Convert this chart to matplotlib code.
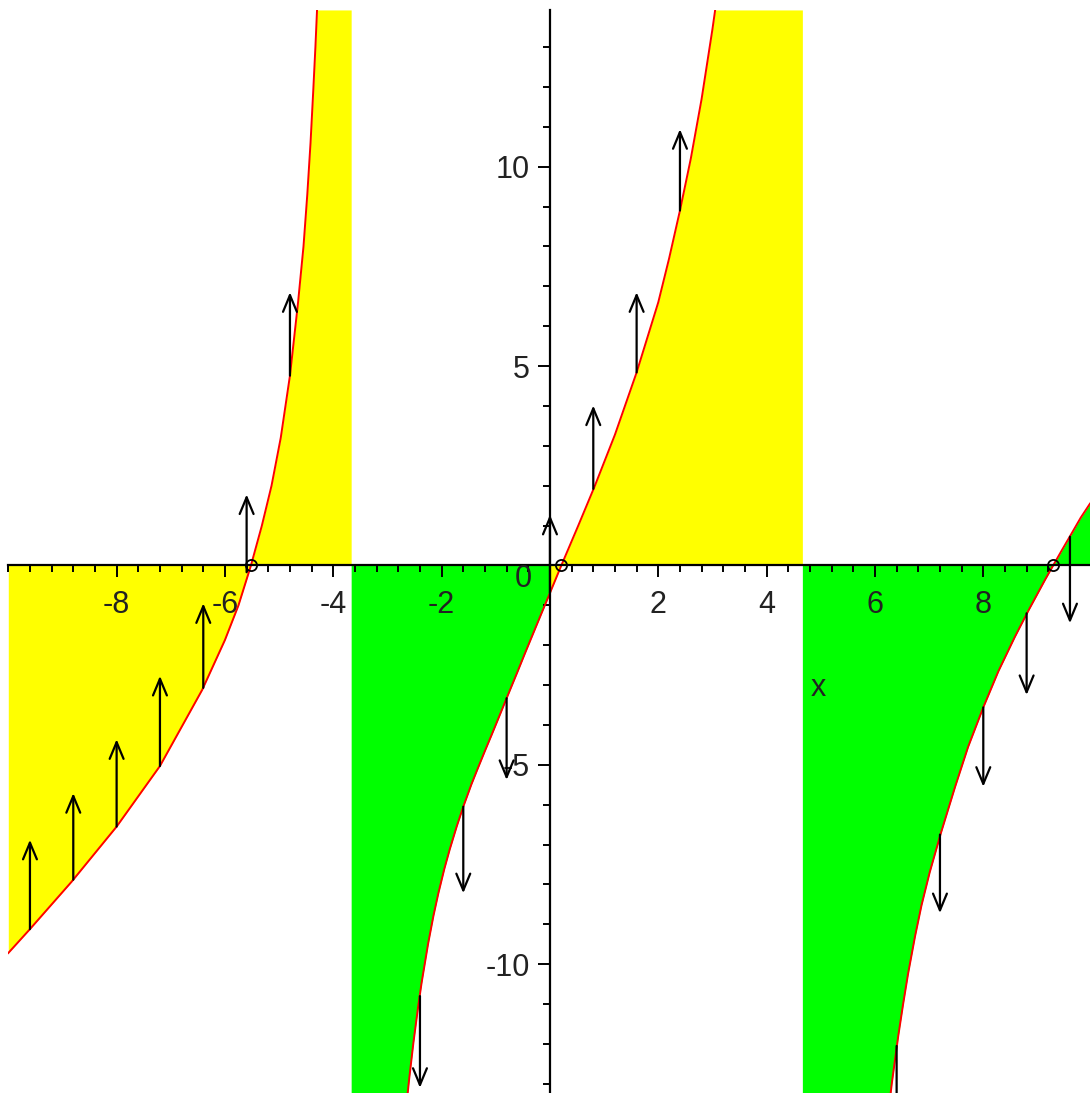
import matplotlib
matplotlib.use("Agg")
import matplotlib.pyplot as plt
from matplotlib.patches import FancyArrowPatch
from matplotlib.ticker import MultipleLocator, FixedLocator

# ---- solution curve, three branches (x, y) ----
branch_a_x = [-10.0, -9.6, -8.83, -8.0, -7.2, -6.42, -6.0, -5.75, -5.52, -5.32, -5.14,
              -4.97, -4.80, -4.65, -4.55, -4.48, -4.42, -4.37, -4.33, -4.30]
branch_a_y = [-9.72, -9.12, -7.93, -6.55, -5.03, -3.12, -1.87, -1.0, 0.0, 0.99, 2.0,
              3.2, 4.76, 6.6, 8.0, 9.3, 10.6, 11.9, 13.0, 13.93]

branch_b_x = [-2.66, -2.60, -2.52, -2.43, -2.37, -2.25, -2.15, -2.06, -1.95, -1.85, -1.72,
              -1.60, -1.45, -1.35, -1.20, -1.08, -0.95, -0.80, -0.60, -0.46, -0.22, 0.0,
              0.21, 0.52, 0.83, 1.20, 1.60, 2.0, 2.2, 2.4, 2.6, 2.8, 3.0, 3.05]
branch_b_y = [-13.66, -12.89, -11.96, -11.03, -10.47, -9.49, -8.78, -8.22, -7.61, -7.12, -6.54,
              -6.05, -5.49, -5.15, -4.65, -4.26, -3.83, -3.33, -2.67, -2.2, -1.41, -0.69,
              0.0, 0.99, 2.0, 3.28, 4.84, 6.6, 7.7, 8.9, 10.2, 11.7, 13.45, 13.93]

branch_c_x = [6.28, 6.31, 6.43, 6.52, 6.61, 6.74, 6.86, 7.01, 7.22, 7.48, 7.72, 8.0, 8.28,
              8.58, 8.83, 9.14, 9.29, 9.45, 9.63, 9.80, 9.97]
branch_c_y = [-13.35, -13.0, -11.8, -11.0, -10.25, -9.30, -8.52, -7.70, -6.70, -5.55,
              -4.55, -3.56, -2.65, -1.80, -1.14, -0.36, 0.0, 0.38, 0.80, 1.20, 1.55]

# ---- shaded bands: edges and colours ----
band_edges = [-10.0, -3.67, 0.0, 4.66, 9.97]
band_colors = ["#ffff00", "#00ff00", "#ffff00", "#00ff00"]

# ---- direction arrows: x, start y, end y ----
arrow_x = [-9.6, -8.8, -8.0, -7.2, -6.4, -5.6, -4.8,
           -2.4, -1.6, -0.8, 0.0, 0.8, 1.6, 2.4,
           6.4, 7.2, 8.0, 8.8, 9.6]
arrow_y0 = [-9.12, -7.88, -6.55, -5.03, -3.07, -0.17, 4.76,
            -10.8, -6.05, -3.33, -0.69, 1.92, 4.84, 8.9,
            -12.05, -6.75, -3.56, -1.2, 0.72]
arrow_y1 = [-6.88, -5.71, -4.36, -2.77, -0.95, 1.78, 6.85,
            -13.1, -8.22, -5.38, 1.27, 4.01, 6.85, 10.94,
            -14.0, -8.72, -5.55, -3.25, -1.45]

# ---- zeros of the curve ----
zero_x = [-5.52, 0.21, 9.29]

# ---- axes ticks ----
x_major = [-8, -6, -4, -2, 2, 4, 6, 8]
y_major = [-10, -5, 5, 10]

XLIM = (-10.0, 9.97)
YLIM = (-13.23, 13.93)

plt.rcParams["font.family"] = ["Liberation Sans", "DejaVu Sans"]

fig = plt.figure(figsize=(10.9, 10.93), dpi=100)
ax = fig.add_axes([0.0076, 0.0, 0.9924, 0.9909])
ax.set_xlim(*XLIM)
ax.set_ylim(*YLIM)


def band_fill(bx, by, lo, hi, y_out_left, y_out_right, color):
    """Fill between y=0 and the curve over [lo, hi]; where the curve has
    left the view, fill up to the view edge."""
    xs, ys = [], []
    pts = [(x, y) for x, y in zip(bx, by) if lo <= x <= hi]
    if pts[0][0] > lo:
        xs += [lo, pts[0][0] - 1e-6]
        ys += [y_out_left, y_out_left]
    for x, y in pts:
        xs.append(x)
        ys.append(y)
    if xs[-1] < hi:
        xs += [xs[-1] + 1e-6, hi]
        ys += [y_out_right, y_out_right]
    ax.fill_between(xs, 0, ys, color=color, linewidth=0, zorder=1)


band_fill(branch_a_x, branch_a_y, band_edges[0], band_edges[1], YLIM[0], YLIM[1], band_colors[0])
band_fill(branch_b_x, branch_b_y, band_edges[1], band_edges[2], YLIM[0], YLIM[1], band_colors[1])
band_fill(branch_b_x, branch_b_y, band_edges[2], band_edges[3], YLIM[0], YLIM[1], band_colors[2])
band_fill(branch_c_x, branch_c_y, band_edges[3], band_edges[4], YLIM[0], YLIM[1], band_colors[3])

# curve
for bx, by in [(branch_a_x, branch_a_y), (branch_b_x, branch_b_y), (branch_c_x, branch_c_y)]:
    ax.plot(bx, by, color="#ff0000", linewidth=1.4, zorder=3)

# arrows
for x, y0, y1 in zip(arrow_x, arrow_y0, arrow_y1):
    arr = FancyArrowPatch((x, y0), (x, y1), arrowstyle="->,head_length=0.6,head_width=0.25",
                          mutation_scale=20, color="black", linewidth=1.6,
                          shrinkA=0, shrinkB=0, zorder=4)
    ax.add_patch(arr)

# zeros
ax.plot(zero_x, [0] * len(zero_x), linestyle="none", marker="o", markersize=8,
        markerfacecolor="none", markeredgecolor="black", markeredgewidth=1.3, zorder=5)

# axes through the origin
for side in ["top", "right"]:
    ax.spines[side].set_visible(False)
ax.spines["left"].set_position(("data", 0))
ax.spines["bottom"].set_position(("data", 0))
for side in ["left", "bottom"]:
    ax.spines[side].set_linewidth(1.6)
    ax.spines[side].set_zorder(3.5)

ax.xaxis.set_major_locator(FixedLocator(x_major))
ax.xaxis.set_minor_locator(MultipleLocator(0.4))
ax.yaxis.set_major_locator(FixedLocator(y_major))
ax.yaxis.set_minor_locator(MultipleLocator(1))
ax.set_xticklabels([str(v) for v in x_major])
ax.set_yticklabels([str(v) for v in y_major])
ax.tick_params(which="major", direction="out", length=8.5, width=1.4,
               labelsize=22, labelcolor="#222222")
ax.tick_params(which="minor", direction="out", length=5, width=1.4)
ax.tick_params(axis="x", which="major", pad=9)
ax.tick_params(axis="y", which="major", pad=6)
for t in ax.get_xticklabels() + ax.get_yticklabels():
    t.set_zorder(6)

ax.text(-0.49, -0.34, "0", fontsize=22, color="#222222", ha="center", va="center", zorder=6)
ax.text(4.95, -3.07, "x", fontsize=22, color="#222222", ha="center", va="center", zorder=6)

fig.savefig("out.png", dpi=100, facecolor="white")
